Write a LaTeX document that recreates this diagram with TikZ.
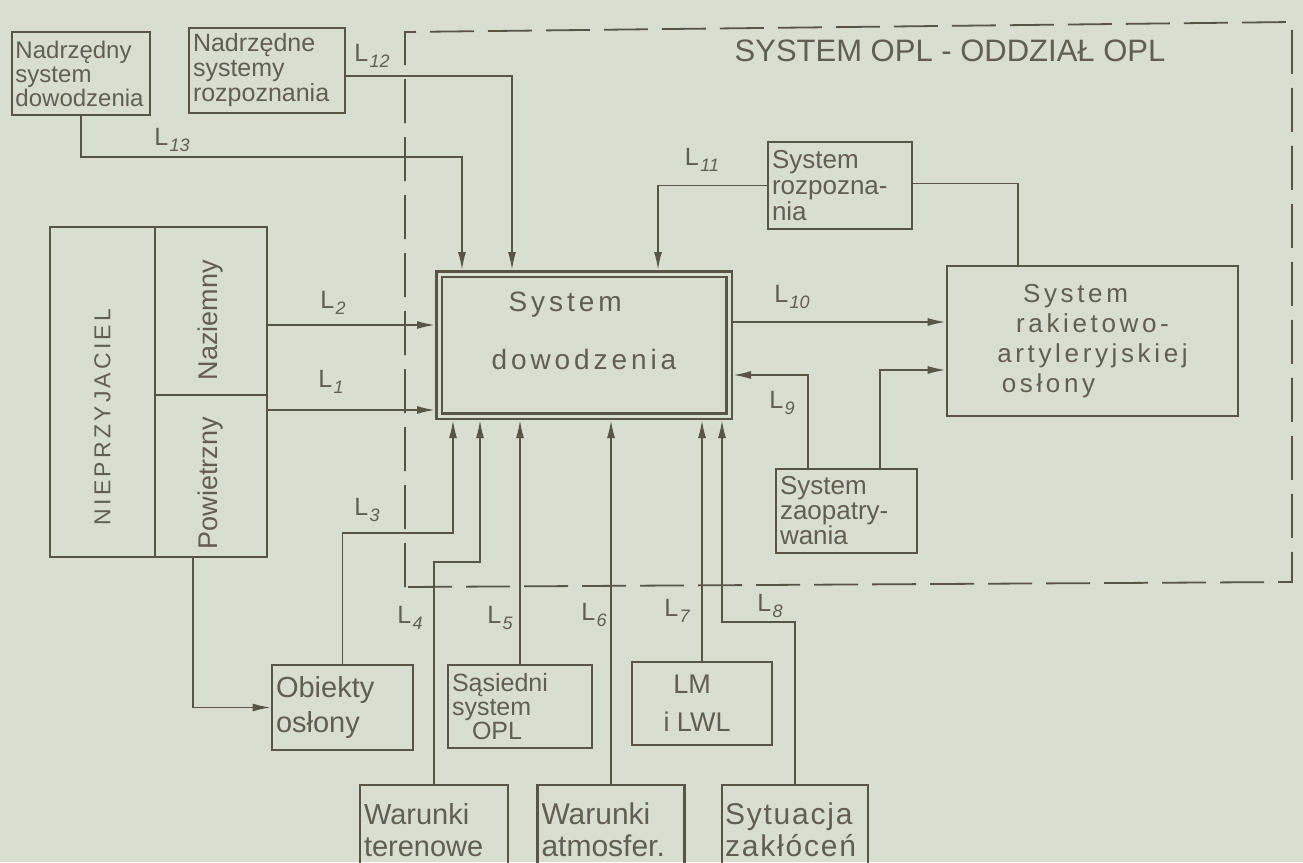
\documentclass[tikz,border=0pt]{standalone}
\usepackage{fontspec}
\setmainfont{Liberation Sans}
\newfontfamily\widefont{Liberation Sans}[LetterSpace=14]
\newfontfamily\medfont{Liberation Sans}[LetterSpace=6]
\usetikzlibrary{arrows.meta}
\definecolor{paper}{RGB}{216,223,208}
\definecolor{ink}{RGB}{88,84,70}
\definecolor{inktext}{RGB}{98,94,82}
\newcommand\Ls[1]{L\kern1.5pt\raisebox{-6pt}{\fontsize{18}{18}\selectfont\itshape #1}}
\begin{document}
\begin{tikzpicture}[x=1pt,y=-1pt,
  box/.style={draw=ink, line width=2.6pt, inner sep=0pt, text=inktext},
  lbox/.style={box, align=left, inner xsep=4pt},
  conn/.style={draw=ink, line width=1.8pt},
  arr/.style={conn, -{Latex[length=18pt,width=8pt]}},
  lab/.style={text=inktext, font=\fontsize{25}{25}\selectfont, inner sep=0pt},
  boundary/.style={draw=ink, line width=1.8pt, dash pattern=on 44pt off 14pt},
]
\useasboundingbox (0,0) rectangle (1303,862);
\fill[paper] (0,0) rectangle (1303,862);
\clip (0,0) rectangle (1303,862);

% system boundary
\draw[boundary] (405,587) -- (405,32) -- (1292,22) -- (1292,582) -- cycle;
\node[text=inktext, font=\fontsize{31}{31}\selectfont, inner sep=0pt] (title) at (950,51) {SYSTEM OPL - ODDZIAŁ OPL};

% boxes
\node[lbox, minimum width=138pt, minimum height=83pt, text width=131pt, inner xsep=3pt,
      font=\fontsize{24}{24}\selectfont] (nsd) at (81,73.5) {Nadrzędny\\system\\dowodzenia};
\node[lbox, minimum width=156pt, minimum height=85pt, text width=148pt,
      font=\fontsize{25}{25}\selectfont] (nsr) at (267,70.5) {Nadrzędne\\systemy\\rozpoznania};

\node[box, rotate=90, minimum width=330pt, minimum height=105pt,
      font=\widefont\fontsize{23}{23}\selectfont] (enemy) at (102.5,392) {NIEPRZYJACIEL\hspace*{50pt}};
\node[box, rotate=90, minimum width=168pt, minimum height=112pt,
      font=\fontsize{27}{27}\selectfont] (naz) at (211,311) {Naziemny\hspace*{18pt}};
\node[box, rotate=90, minimum width=162pt, minimum height=112pt,
      font=\fontsize{27}{27}\selectfont] (pow) at (211,476) {Powietrzny\hspace*{14pt}};

\node[draw=ink, double=paper, double distance=3pt, line width=2.5pt,
      minimum width=290pt, minimum height=142pt, outer sep=4pt, inner sep=0pt,
      align=left, text=inktext, text depth=28pt,
      font=\widefont\fontsize{28}{58}\selectfont] (sd) at (584,345) {\hspace*{17pt}System\\dowodzenia};

\node[lbox, minimum width=144pt, minimum height=87pt, text width=136pt,
      font=\fontsize{26}{26}\selectfont] (rozp) at (840,185.5) {System\\rozpozna-\\nia};
\node[box, minimum width=291pt, minimum height=150pt, align=center,
      font=\widefont\fontsize{26}{30}\selectfont] (rak) at (1092.5,341)
      {System\hspace*{34pt}\\rakietowo-\hspace*{46pt}\\artyleryjskiej\hspace*{28pt}\\osłony\hspace*{88pt}};
\node[lbox, minimum width=141pt, minimum height=84pt, text width=133pt,
      font=\fontsize{26}{25}\selectfont] (zaop) at (846.5,511) {System\\zaopatry-\\wania};

\node[lbox, minimum width=141pt, minimum height=85pt, text width=133pt,
      font=\fontsize{29}{35}\selectfont] (obi) at (342.5,707.5) {Obiekty\\osłony};
\node[lbox, minimum width=144pt, minimum height=83pt, text width=136pt,
      font=\fontsize{25}{24}\selectfont] (sas) at (520,706.5) {Sąsiedni\\system\\\hspace*{20pt}OPL};
\node[box, minimum width=140pt, minimum height=83pt, align=center,
      font=\fontsize{27}{38}\selectfont] (lm) at (702,703.5) {LM\hspace*{20pt}\\i LWL\hspace*{10pt}};
\node[lbox, minimum width=148pt, minimum height=90pt, text width=140pt,
      font=\fontsize{29}{32}\selectfont] (wt) at (434,830) {Warunki\\terenowe};
\node[lbox, minimum width=147pt, minimum height=90pt, text width=139pt,
      font=\fontsize{30}{32}\selectfont] (wa) at (611,830) {Warunki\\atmosfer.};
\node[lbox, minimum width=146pt, minimum height=90pt, text width=140pt, inner xsep=3pt,
      font=\medfont\fontsize{30}{32}\selectfont] (sz) at (795,830) {Sytuacja\\zakłóceń};

% helper coordinates
\coordinate (c13) at (462,157);
\coordinate (c3) at (453,533);
\coordinate (c4) at (480,562);
\coordinate (c8) at (722,622);
\coordinate (p2) at ([yshift=-14pt]naz.south);
\coordinate (p1) at ([yshift=66pt]pow.south);
\coordinate (p10) at ([yshift=23pt]sd.east);
\coordinate (p9) at ([yshift=-30pt]sd.east);

% connectors
\draw[arr] (nsd.south) |- (c13) -- (c13 |- sd.north);
\draw[arr] ([yshift=-5.5pt]nsr.east) -| ([xshift=-72pt]sd.north);
\draw[arr] (rozp.west) -| ([xshift=74pt]sd.north);
\draw[conn] ([yshift=2pt]rozp.east) -| ([xshift=-74.5pt]rak.north);
\draw[arr] (p2) -- (p2 -| sd.west);
\draw[arr] (p1) -- (p1 -| sd.west);
\draw[arr] (p10) -- (p10 -| rak.west);
\draw[arr] ([xshift=-38.5pt]zaop.north) |- (p9);
\draw[arr] ([xshift=33.5pt]zaop.north) |- ([yshift=-29pt]rak.west);
\draw[arr] ([xshift=-18pt]pow.west) |- (obi.west);
\draw[arr] (obi.north) |- (c3) -- (c3 |- sd.south);
\draw[arr] (wt.north) |- (c4) -- (c4 |- sd.south);
\draw[arr] (sas.north) -- (sas.north |- sd.south);
\draw[arr] (wa.north) -- (wa.north |- sd.south);
\draw[arr] (lm.north) -- (lm.north |- sd.south);
\draw[arr] (sz.north) |- (c8) -- (c8 |- sd.south);

% labels
\node[lab] (l13) at (172,140) {\Ls{13}};
\node[lab] (l12) at (372,56) {\Ls{12}};
\node[lab] (l11) at (702,160) {\Ls{11}};
\node[lab] (l10) at (792,297) {\Ls{10}};
\node[lab] (l9) at (782,403) {\Ls{9}};
\node[lab] (l2) at (333,303) {\Ls{2}};
\node[lab] (l1) at (331,382) {\Ls{1}};
\node[lab] (l3) at (367,510) {\Ls{3}};
\node[lab] (l4) at (410,618) {\Ls{4}};
\node[lab] (l5) at (500,618) {\Ls{5}};
\node[lab] (l6) at (594,615) {\Ls{6}};
\node[lab] (l7) at (677,611) {\Ls{7}};
\node[lab] (l8) at (770,606) {\Ls{8}};
\end{tikzpicture}
\end{document}
